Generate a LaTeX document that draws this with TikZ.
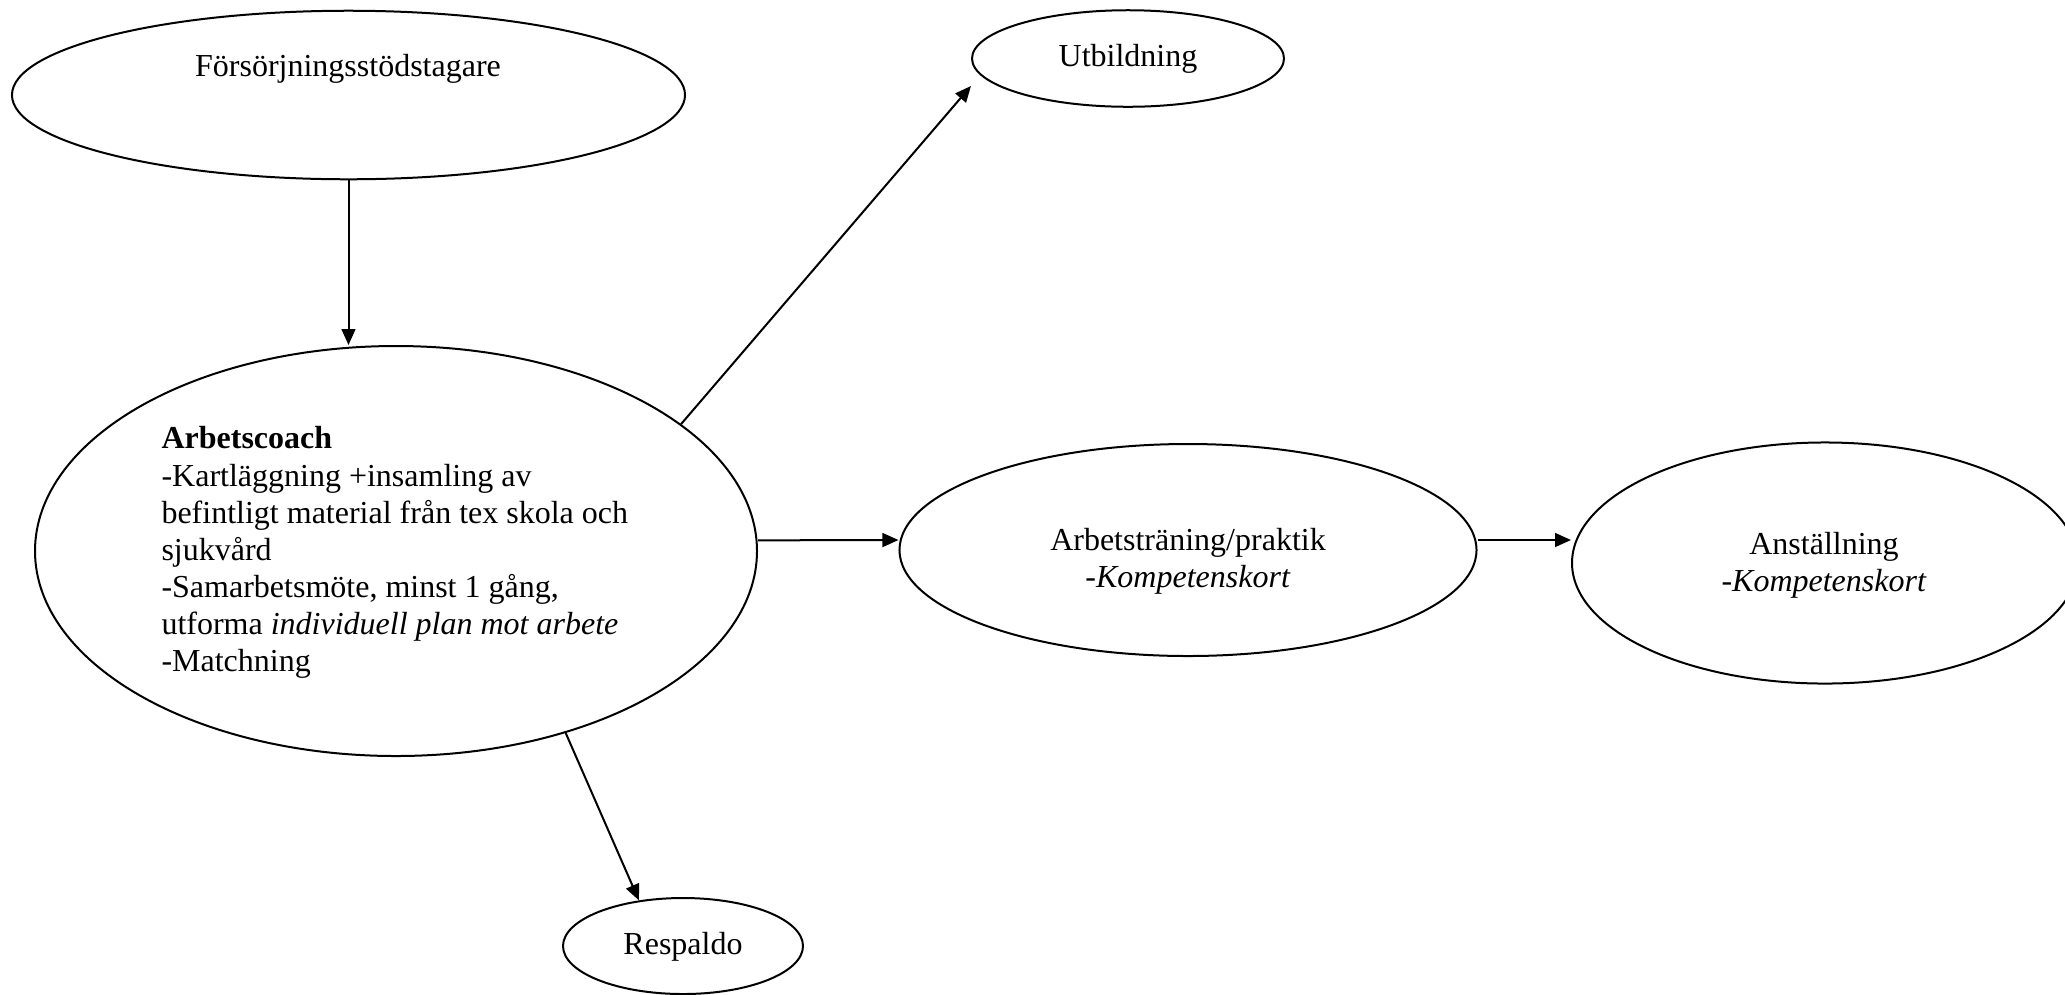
\documentclass[tikz,border=0pt]{standalone}
\usepackage{fontspec}
\setmainfont{Liberation Serif}
\usetikzlibrary{shapes.geometric,arrows.meta}
\tikzset{
  ell/.style={ellipse, draw=black, line width=0.75pt, inner sep=0pt},
  txt/.style={font=\fontsize{12}{13.9}\selectfont, inner sep=0pt},
  arr/.style={draw=black, line width=0.75pt, -{Triangle[length=6pt,width=5.2pt]}}
}
\begin{document}
\begin{tikzpicture}[x=0.375pt,y=-0.375pt]
\useasboundingbox (0,0) rectangle (2065,994);
% ellipses
\node[ell, minimum width=252.4pt, minimum height=63.2pt] (fors) at (348.5,95) {};
\node[ell, minimum width=117pt, minimum height=36.2pt] (utb) at (1128,58.5) {};
\node[ell, minimum width=270.75pt, minimum height=153.75pt] (coach) at (396,551) {};
\node[ell, minimum width=216.4pt, minimum height=79.5pt] (arb) at (1188,550) {};
\node[ell, minimum width=189.75pt, minimum height=90.4pt] (ans) at (1825,563) {};
\node[ell, minimum width=90pt, minimum height=36pt] (resp) at (683,946) {};
% texts
\node[txt] (forst) at (348,68.5) {Försörjningsstödstagare};
\node[txt] (utbt) at (1128,58.5) {Utbildning};
\node[txt, align=left, anchor=west] (coacht) at (161,552.5) {\textbf{Arbetscoach}\\
-Kartläggning +insamling av\\
befintligt material från tex skola och\\
sjukvård\\
-Samarbetsmöte, minst 1 gång,\\
utforma \textit{individuell plan mot arbete}\\
-Matchning};
\node[txt, align=center] (arbt) at (1188,561.5) {Arbetsträning/praktik\\-\textit{Kompetenskort}};
\node[txt, align=center] (anst) at (1824,565) {Anställning\\-\textit{Kompetenskort}};
\node[txt] (respt) at (683,946.5) {Respaldo};
% connectors
\draw[arr] (fors.south) -- (fors.south |- coach.north);
\draw[arr] (coach.24.5) -- ([yshift=-10.3pt]utb.west);
\draw[arr] ([yshift=4pt]coach.east) -- ([yshift=3.75pt]arb.west);
\draw[arr] ([yshift=3.75pt]arb.east) -- ([yshift=3.75pt]arb.east -| ans.west);
\draw[arr] (coach.-47) -- (resp.134);
\end{tikzpicture}
\end{document}
